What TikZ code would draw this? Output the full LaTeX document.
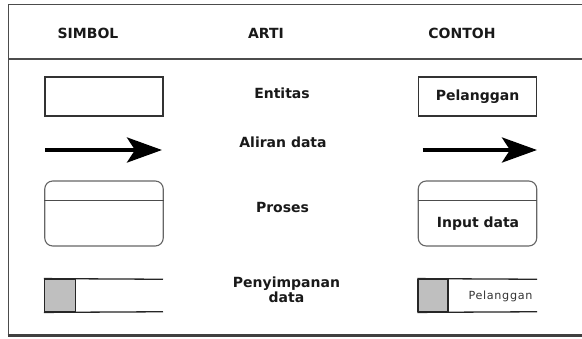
\documentclass[tikz,border=0pt]{standalone}
\usepackage{fontspec}
\setmainfont{DejaVu Sans}
\usetikzlibrary{arrows.meta}
\begin{document}
\begin{tikzpicture}[x=1pt,y=-1pt,
  lbl/.style={inner sep=0pt,anchor=base,font=\fontsize{14}{12}\selectfont\bfseries,text=black!90},
  hdr/.style={lbl},
  small/.style={inner sep=0pt,anchor=base,font=\fontsize{11.2}{12}\selectfont\addfontfeature{LetterSpace=6},text=black!80},
  entbox/.style={draw=black!80,line width=1.3pt,minimum width=118pt,minimum height=39pt,inner sep=0pt},
  procbox/.style={draw=black!60,line width=1.1pt,rounded corners=8pt,minimum width=118.5pt,minimum height=65pt,inner sep=0pt},
  frameline/.style={draw=black!70,line width=1pt},
  flow/.style={line width=4.2pt,-{Stealth[length=35pt,width=25pt,inset=8pt]}},
  store/.style={draw=black!85,line width=1.3pt},
  storefill/.style={fill=black!25,draw=black!85,line width=1.3pt}]
\useasboundingbox (0,0) rectangle (582,338);
\fill[white] (0,0) rectangle (582,338);
\begin{scope}
\clip (0,0) rectangle (582,338);
% frame
\draw[frameline] (8,4) -- (590,4);
\draw[frameline] (8,4) -- (8,335);
\draw[frameline,line width=1.2pt] (8,59) -- (590,59);
\draw[draw=black!75,line width=2.4pt] (7.5,335.5) -- (590,335.5);
\end{scope}
% header
\node[hdr] (hs) at (88,38) {SIMBOL};
\node[hdr] (ha) at (266,38) {ARTI};
\node[hdr] (hc) at (462,38) {CONTOH};
% entity row
\node[entbox] (ent1) at (104,96.5) {};
\node[lbl] (entlbl) at (282,98) {Entitas};
\node[entbox,font=\fontsize{14}{12}\selectfont\bfseries,text=black!90] (ent2) at (477.5,96.5) {Pelanggan};
% data flow row
\coordinate (f1s) at (45,150);
\coordinate (f1e) at (162,150);
\coordinate (f2s) at (422.5,150);
\coordinate (f2e) at (537,150);
\draw[flow] (f1s) -- (f1e);
\draw[flow] (f2s) -- (f2e);
\node[lbl] (flowlbl) at (283,147) {Aliran data};
% process row
\node[procbox] (p1) at (104,213.5) {};
\draw[draw=black!70,line width=1.1pt] (p1.west |- 0,200.7) -- (p1.east |- 0,200.7);
\node[lbl] (proclbl) at (282.5,212) {Proses};
\node[procbox] (p2) at (477.5,213.5) {};
\draw[draw=black!70,line width=1.1pt] (p2.west |- 0,200.7) -- (p2.east |- 0,200.7);
\node[lbl] (p2lbl) at (478,227) {Input data};
% data store row
\node[storefill,minimum width=30.8pt,minimum height=32.5pt,inner sep=0pt] (s1g) at (59.9,295.5) {};
\coordinate (s1t) at (163,279.25);
\coordinate (s1b) at (163,311.75);
\draw[store] (s1g.north west) -- (s1t);
\draw[store] (s1g.south west) -- (s1b);
\node[storefill,minimum width=30pt,minimum height=32.5pt,inner sep=0pt] (s2g) at (433,295.5) {};
\coordinate (s2t) at (537,279.25);
\coordinate (s2b) at (537,311.75);
\draw[store] (s2g.north west) -- (s2t);
\draw[store] (s2g.south west) -- (s2b);
\node[lbl,anchor=center,align=center,font=\fontsize{14}{12}\selectfont\bfseries] (storelbl) at (286.5,290) {Penyimpanan\\data};
\node[small] (s2lbl) at (500.5,299) {Pelanggan};
\end{tikzpicture}
\end{document}
